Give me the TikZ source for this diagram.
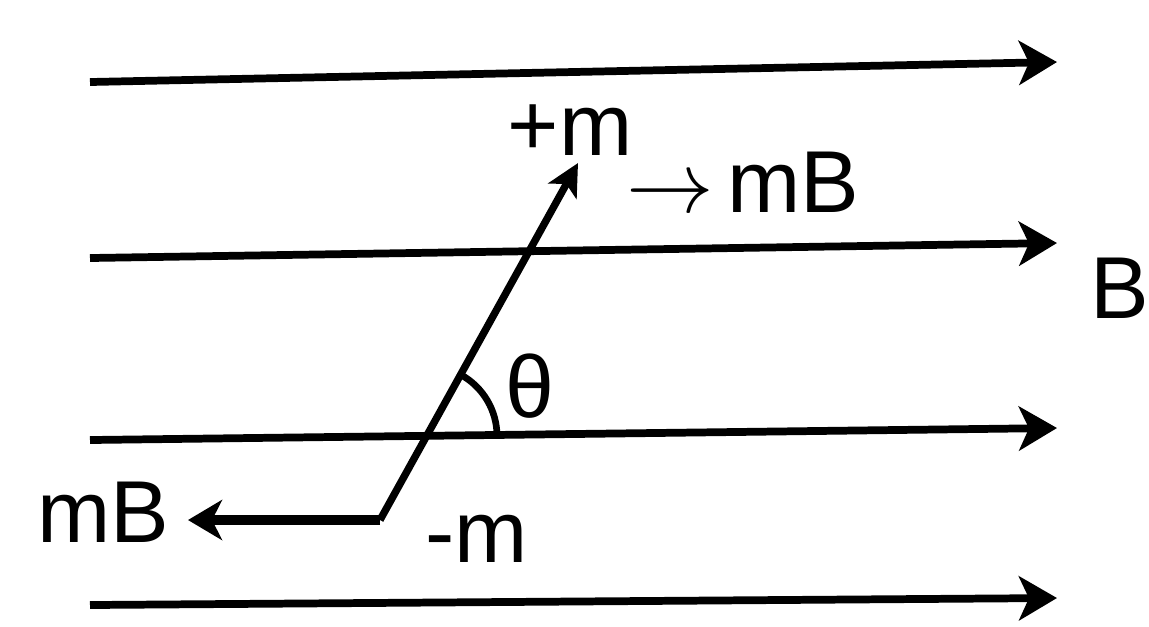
\documentclass[tikz,border=0pt]{standalone}
\usepackage{fontspec}
\setmainfont{Liberation Sans}
\usetikzlibrary{arrows.meta,positioning}

\begin{document}
\begin{tikzpicture}[
    x=0.01cm, y=-0.01cm,
    every node/.style={font=\fontsize{25}{30}\selectfont, inner sep=0pt},
    fieldline/.style={line width=2.2pt, -{Stealth[length=0.38cm, width=0.44cm, inset=0.1cm]}},
    dipole/.style={line width=2.1pt, -{Stealth[length=0.32cm, width=0.32cm, inset=0.08cm]}},
    force/.style={line width=2.8pt, -{Stealth[length=0.34cm, width=0.4cm, inset=0.1cm]}}
  ]
  \useasboundingbox (0,0) rectangle (1149,626);
  % field lines
  \foreach \ya/\yb [count=\i] in {82/62, 258/243, 440/428, 605/598}{
    \coordinate (fl\i) at (90,\ya);
    \coordinate (fr\i) at (1057,\yb);
    \draw[fieldline] (fl\i) -- (fr\i);
  }
  \node[anchor=base west] (B) at (1090,318) {B};

  % dipole and forces
  \coordinate (negm) at (380,520);
  \coordinate (posm) at (578,163);
  \coordinate (fend) at (188,520);
  \coordinate (pivot) at (427,436);
  \draw[dipole] (negm) -- (posm);
  \draw[force] (negm) -- (fend);
  \draw[line width=1.9pt] (pivot) ++(70,0) arc[start angle=0, end angle=-61, radius=70];

  \node[anchor=base west] (pm) at (507,155) {+m};
  \node[anchor=base west] (arr) at (626,212) {$\rightarrow$};
  \node[anchor=base west] (mbR) at (727,212) {mB};
  \node[anchor=base east] (mbL) at (170,542) {mB};
  \node[anchor=base west] (mm) at (425,562) {-m};
  \node[anchor=base west] (theta) at (505,417) {θ};
\end{tikzpicture}
\end{document}
